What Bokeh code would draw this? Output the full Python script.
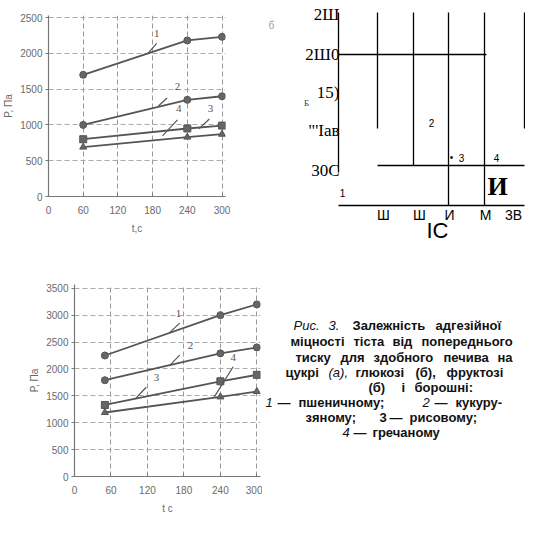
from bokeh.plotting import figure
from bokeh.layouts import column, row
from bokeh.models import Range1d, FixedTicker
from bokeh.core.properties import value
from bokeh.embed import file_html
from bokeh.resources import INLINE

# ---------------- data: chart (a) ----------------
t_a = [60, 240, 300]
a_s1 = [1700, 2180, 2230]
a_s2 = [1000, 1350, 1400]
a_s3 = [800, 950, 990]
a_s4 = [690, 830, 870]

# ---------------- data: chart (b) ----------------
t_b = [50, 240, 300]
b_s1 = [2250, 3000, 3200]
b_s2 = [1790, 2290, 2400]
b_s3 = [1330, 1770, 1890]
b_s4 = [1190, 1480, 1580]

x_ticks = [0, 60, 120, 180, 240, 300]
y_ticks_a = [0, 500, 1000, 1500, 2000, 2500]
y_ticks_b = [0, 500, 1000, 1500, 2000, 2500, 3000, 3500]
series_names = ["1", "2", "3", "4"]
markers = ["circle", "circle", "square", "triangle"]

# curve number labels (data units) and their leader strokes
lab_a_x = [187, 223, 280, 225]
lab_a_y = [2278, 1542, 1236, 1236]
lead_a = dict(x0=[187, 205, 278, 223], y0=[2139, 1375, 1083, 1069],
              x1=[172, 190, 260, 197], y1=[2000, 1264, 944, 847])
lab_b_x = [171, 191, 135, 261]
lab_b_y = [3032, 2437, 1841, 2220]
lead_b = dict(x0=[173, 173, 118, 261], y0=[2852, 2256, 1660, 2040],
              x1=[156, 156, 100, 230], y1=[2671, 2058, 1444, 1480])

INK = "#555555"
GRAY = "#6a6a6a"


def chart(w, h, xr, yr, ml, mr, mt, mb, yticks, t, series, lx, ly, lead, xlabel):
    p = figure(width=w, height=h, x_range=Range1d(*xr), y_range=Range1d(*yr),
               toolbar_location=None, output_backend="svg",
               min_border_left=ml, min_border_right=mr,
               min_border_top=mt, min_border_bottom=mb)
    p.outline_line_color = None
    p.xaxis.ticker = FixedTicker(ticks=x_ticks)
    p.yaxis.ticker = FixedTicker(ticks=yticks)
    for ax in (p.xaxis, p.yaxis):
        ax.axis_line_color = "#777777"
        ax.axis_line_width = 1.2
        ax.major_tick_line_color = "#777777"
        ax.minor_tick_line_color = None
        ax.major_label_text_font = "Liberation Sans"
        ax.major_label_text_font_size = "10px"
        ax.major_label_text_color = GRAY
        ax.axis_label_text_font = "Liberation Sans"
        ax.axis_label_text_font_size = "10px"
        ax.axis_label_text_font_style = "normal"
        ax.axis_label_text_color = GRAY
    p.xaxis.major_tick_in = 3
    p.xaxis.major_tick_out = 0
    p.xaxis.major_label_standoff = 9
    p.xaxis.axis_label = xlabel
    p.xaxis.axis_label_standoff = 6
    p.yaxis.major_tick_in = 0
    p.yaxis.major_tick_out = 3
    p.yaxis.major_label_standoff = 3
    p.yaxis.axis_label = "P, Па"
    p.yaxis.axis_label_standoff = 3
    p.xgrid.grid_line_color = "#999999"
    p.xgrid.grid_line_dash = "5 3"
    p.ygrid.grid_line_color = "#aaaaaa"
    p.ygrid.grid_line_dash = "5 3"
    for s, m in zip(series, markers):
        p.line(t, s, line_color=INK, line_width=1.8)
        p.scatter(t, s, marker=m, size=7, fill_color="#666666", line_color=INK)
    p.segment(x0=lead["x0"], y0=lead["y0"], x1=lead["x1"], y1=lead["y1"],
              line_color=INK, line_width=1.2)
    p.text(x=lx, y=ly, text=series_names, text_font=value("Liberation Serif"),
           text_font_size=value("11px"), text_color=INK,
           text_align="center", text_baseline="middle")
    return p


pa = chart(262, 258, (0, 306), (0, 2528), 41, 37, 15, 62, y_ticks_a, t_a,
           [a_s1, a_s2, a_s3, a_s4], lab_a_x, lab_a_y, lead_a, "t,c")
pb = chart(262, 258, (0, 306), (0, 3570), 74, 2, 26, 34, y_ticks_b, t_b,
           [b_s1, b_s2, b_s3, b_s4], lab_b_x, lab_b_y, lead_b, "t c")

# ---------------- right-top panel (distorted scan of figure (в)) ----------------
rt = figure(width=263, height=258, x_range=Range1d(270, 533), y_range=Range1d(266, 8),
            toolbar_location=None, output_backend="svg", x_axis_type=None, y_axis_type=None,
            min_border=0)
rt.outline_line_color = None
rt.grid.visible = False

rt_seg_x0 = [346, 346, 385, 421, 456, 492, 532, 385, 346]
rt_seg_y0 = [20, 62, 20, 20, 20, 20, 20, 173, 213]
rt_seg_x1 = [346, 494, 385, 421, 456, 492, 532, 532, 532]
rt_seg_y1 = [180, 62, 136, 173, 213, 213, 136, 173, 213]
rt.segment(x0=rt_seg_x0, y0=rt_seg_y0, x1=rt_seg_x1, y1=rt_seg_y1,
           line_color="black", line_width=1.3)

rt_ylab = ["2Ш", "2Ш0", "15)", "\"'Iав", "30С"]
rt_ylab_x = [347, 347, 347, 347, 347]
rt_ylab_y = [22, 62, 100, 138, 178]
rt.text(x=rt_ylab_x, y=rt_ylab_y, text=rt_ylab, text_font=value("Liberation Serif"),
        text_font_size=value("17px"), text_color="black",
        text_align="right", text_baseline="middle")
rt.text(x=[314], y=[110], text=["Б"], text_font=value("Liberation Serif"),
        text_font_size=value("9px"), text_color="#333333",
        text_align="center", text_baseline="middle")
rt.text(x=[276], y=[33], text=["б"], text_font=value("Liberation Sans"),
        text_font_size=value("10px"), text_color="#999999",
        text_align="left", text_baseline="middle")

rt_num = ["1", "2", "•", "3", "4"]
rt_num_x = [350, 439, 459, 469, 504]
rt_num_y = [200, 130, 165, 165, 165]
rt.text(x=rt_num_x, y=rt_num_y, text=rt_num, text_font=value("Liberation Sans"),
        text_font_size=value("10px"), text_color="black",
        text_align="center", text_baseline="middle")
rt.text(x=[505], y=[194], text=["И"], text_font=value("Liberation Serif"),
        text_font_size=value("26px"), text_font_style="bold", text_color="black",
        text_align="center", text_baseline="middle")

rt_xlab = ["Ш", "Ш", "И", "М", "3В"]
rt_xlab_x = [391, 427, 457, 493, 521]
rt.text(x=rt_xlab_x, y=[222] * 5, text=rt_xlab, text_font=value("Liberation Sans"),
        text_font_size=value("14px"), text_color="black",
        text_align="center", text_baseline="middle")
rt.text(x=[445], y=[238], text=["IС"], text_font=value("Liberation Sans"),
        text_font_size=value("22px"), text_color="black",
        text_align="center", text_baseline="middle")

# ---------------- caption (justified: each word placed on its line) ----------------
cap = figure(width=263, height=258, x_range=Range1d(270, 533), y_range=Range1d(524, 266),
             toolbar_location=None, output_backend="svg", x_axis_type=None, y_axis_type=None,
             min_border=0)
cap.outline_line_color = None
cap.grid.visible = False

line_y = [333, 349, 365, 380, 395, 410, 425, 440]
cap_words = [
    # (word, x, line index, italic?)
    ("Рис.", 301, 0, True), ("3.", 336, 0, True), ("Залежність", 360, 0, False),
    ("адгезійної", 443, 0, False),
    ("міцності", 298, 1, False), ("тіста", 361, 1, False), ("від", 400, 1, False),
    ("попереднього", 429, 1, False),
    ("тиску", 303, 2, False), ("для", 348, 2, False), ("здобного", 381, 2, False),
    ("печива", 451, 2, False), ("на", 505, 2, False),
    ("цукрі", 293, 3, False), ("(а),", 336, 3, True), ("глюкозі", 363, 3, False),
    ("(б),", 423, 3, False), ("фруктозі", 454, 3, False),
    ("(б)", 376, 4, False), ("і", 409, 4, False), ("борошні:", 422, 4, False),
    ("1", 273, 5, True), ("—", 285, 5, False), ("пшеничному;", 306, 5, False),
    ("2", 430, 5, True), ("—", 442, 5, False), ("кукуру-", 463, 5, False),
    ("зяному;", 313, 6, False), ("3", 387, 6, False), ("—", 397, 6, False),
    ("рисовому;", 417, 6, False),
    ("4", 350, 7, True), ("—", 361, 7, False), ("гречаному", 380, 7, False),
]

bold_w = [w for w in cap_words if not w[3]]
ital_w = [w for w in cap_words if w[3]]
cap.text(x=[w[1] for w in bold_w], y=[line_y[w[2]] for w in bold_w], text=[w[0] for w in bold_w],
         text_font=value("Liberation Sans"), text_font_size=value("13px"),
         text_font_style="bold", text_color="#111111",
         text_align="left", text_baseline="middle")
cap.text(x=[w[1] for w in ital_w], y=[line_y[w[2]] for w in ital_w], text=[w[0] for w in ital_w],
         text_font=value("Liberation Sans"), text_font_size=value("13px"),
         text_font_style="italic", text_color="#111111",
         text_align="left", text_baseline="middle")

layout = row(column(column(pa), column(pb)), column(rt, cap))
open("out.html", "w").write(file_html(layout, INLINE))
